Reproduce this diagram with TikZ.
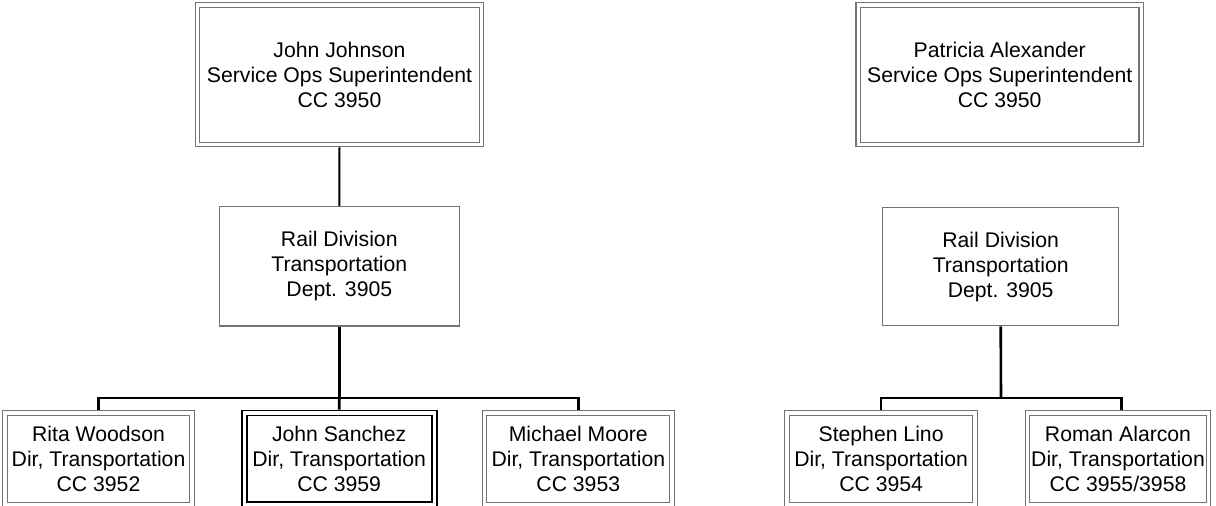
\documentclass[tikz,border=0pt]{standalone}
\usepackage{fontspec}
\setmainfont{Liberation Sans}
\definecolor{boxgray}{gray}{0.45}
\begin{document}
\begin{tikzpicture}[x=1pt,y=-1pt,
  every node/.style={font=\fontsize{21.2}{25}\selectfont, align=center, inner sep=0pt},
  dbox/.style={draw=boxgray, line width=1.1pt, double=white, double distance=3.4pt, outer sep=2.8pt},
  boldbox/.style={draw=black, line width=1.8pt, double=white, double distance=3.2pt, outer sep=3.4pt},
  sbox/.style={draw=boxgray, line width=1.2pt, outer sep=0.6pt},
  conn/.style={draw=black, line width=2.6pt},
  thinconn/.style={draw=black, line width=2pt}
]
\useasboundingbox (0,0) rectangle (1216,506);

% left tree
\node[dbox, minimum width=284pt, minimum height=139.5pt] (jj) at (339.5,74.7)
  {John Johnson\\Service Ops Superintendent\\CC 3950};
\node[sbox, minimum width=240pt, minimum height=119.3pt] (rl) at (339.3,266.4)
  {Rail Division\\Transportation\\Dept. 3905};
\node[dbox, minimum width=187pt, minimum height=91.5pt] (rw) at (98.5,458.75)
  {Rita Woodson\\Dir, Transportation\\CC 3952};
\node[boldbox, minimum width=190pt, minimum height=91.5pt] (js) at (339.2,458.75)
  {John Sanchez\\Dir, Transportation\\CC 3959};
\node[dbox, minimum width=187.7pt, minimum height=91.5pt] (mm) at (578.3,458.75)
  {Michael Moore\\Dir, Transportation\\CC 3953};

\coordinate (barL) at (339.3,398);
\draw[thinconn] (jj.south) -- (rl.north);
\draw[conn] (rl.south) -- (barL);
\draw[conn] (rw.north) |- (barL) -| (mm.north);
\draw[conn] (barL) -- (js.north);

% right tree
\node[dbox, minimum width=283pt, minimum height=139.5pt] (pa) at (999.7,74.7)
  {Patricia Alexander\\Service Ops Superintendent\\CC 3950};
\node[sbox, minimum width=236pt, minimum height=118pt] (rr) at (1000.7,266.7)
  {Rail Division\\Transportation\\Dept. 3905};
\node[dbox, minimum width=188pt, minimum height=91.5pt] (sl) at (881.1,458.75)
  {Stephen Lino\\Dir, Transportation\\CC 3954};
\node[dbox, minimum width=181.3pt, minimum height=91.5pt] (ra) at (1118,458.75)
  {Roman Alarcon\\Dir, Transportation\\CC 3955/3958};

\coordinate (barR) at (1001,398);
\draw[conn] (rr.south) -- (barR);
\draw[conn] (sl.north) |- (barR) -| ([xshift=3.7pt]ra.north);
\end{tikzpicture}
\end{document}
